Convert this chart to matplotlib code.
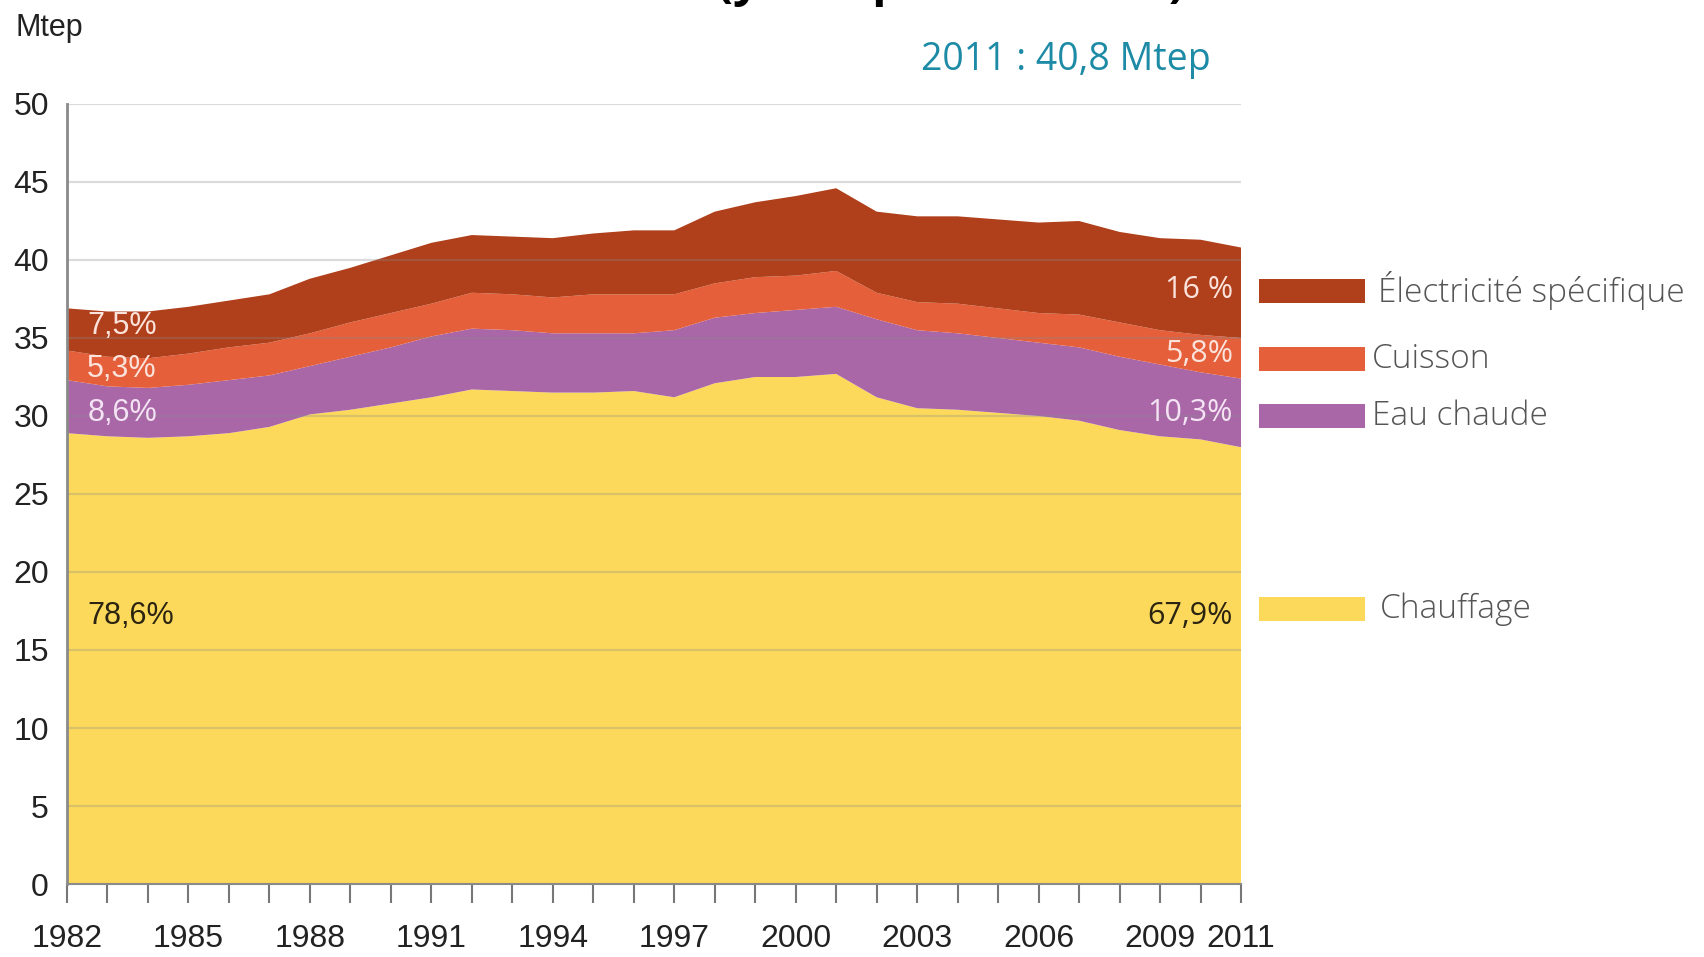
import matplotlib
matplotlib.use('Agg')
import matplotlib.pyplot as plt
from matplotlib.patches import Rectangle

years = list(range(1982, 2012))

# cumulative boundaries (Mtep)
top_chauffage = [28.9, 28.7, 28.6, 28.7, 28.9, 29.3, 30.1, 30.4, 30.8, 31.2,
                 31.7, 31.6, 31.5, 31.5, 31.6, 31.2, 32.1, 32.5, 32.5, 32.7,
                 31.2, 30.5, 30.4, 30.2, 30.0, 29.7, 29.1, 28.7, 28.5, 28.0]
top_eau = [32.3, 31.9, 31.8, 32.0, 32.3, 32.6, 33.2, 33.8, 34.4, 35.1,
           35.6, 35.5, 35.3, 35.3, 35.3, 35.5, 36.3, 36.6, 36.8, 37.0,
           36.2, 35.5, 35.3, 35.0, 34.7, 34.4, 33.8, 33.3, 32.8, 32.4]
top_cuisson = [34.2, 33.8, 33.7, 34.0, 34.4, 34.7, 35.3, 36.0, 36.6, 37.2,
               37.9, 37.8, 37.6, 37.8, 37.8, 37.8, 38.5, 38.9, 39.0, 39.3,
               37.9, 37.3, 37.2, 36.9, 36.6, 36.5, 36.0, 35.5, 35.2, 35.0]
total = [36.9, 36.7, 36.7, 37.0, 37.4, 37.8, 38.8, 39.5, 40.3, 41.1,
         41.6, 41.5, 41.4, 41.7, 41.9, 41.9, 43.1, 43.7, 44.1, 44.6,
         43.1, 42.8, 42.8, 42.6, 42.4, 42.5, 41.8, 41.4, 41.3, 40.8]

chauffage = top_chauffage
eau_chaude = [b - a for a, b in zip(top_chauffage, top_eau)]
cuisson = [b - a for a, b in zip(top_eau, top_cuisson)]
electricite = [b - a for a, b in zip(top_cuisson, total)]

labels = ['Chauffage', 'Eau chaude', 'Cuisson', 'Électricité spécifique']
colors = ['#fcd95b', '#a967a8', '#e55f3a', '#b0401b']

xtick_years = [1982, 1985, 1988, 1991, 1994, 1997, 2000, 2003, 2006, 2009, 2011]
yticks = list(range(0, 55, 5))

narrow = ['Liberation Sans Narrow', 'Liberation Sans', 'DejaVu Sans']
soft = ['Open Sans', 'DejaVu Sans']

W, H = 1704, 957
fig = plt.figure(figsize=(W / 100, H / 100), dpi=100)
ax = fig.add_axes([67 / W, 1 - 884 / H, (1241 - 67) / W, 780 / H])

ax.stackplot(years, chauffage, eau_chaude, cuisson, electricite,
             colors=colors, linewidth=0, zorder=1)

for v in yticks[1:]:
    ax.axhline(v, color='#8a8a8a', alpha=0.3, lw=1.6, zorder=2)

ax.set_xlim(1982, 2011)
ax.set_ylim(0, 50)
ax.set_yticks(yticks)
ax.set_yticklabels([str(v) for v in yticks], family=narrow, fontsize=23, color='#222222')
ax.set_xticks(years, minor=False)
ax.set_xticklabels([str(y) if y in xtick_years else '' for y in years],
                   family=narrow, fontsize=23, color='#222222')
ax.tick_params(axis='y', length=0, pad=13)
ax.tick_params(axis='x', length=14, width=1.5, color='#777777', pad=15, direction='out')

for s in ['top', 'right']:
    ax.spines[s].set_visible(False)
ax.spines['left'].set_color('#8a8a8a')
ax.spines['left'].set_linewidth(2)
ax.spines['bottom'].set_color('#8a8a8a')
ax.spines['bottom'].set_linewidth(1.5)

# share labels
ax.text(1982.5, 35.8, '7,5%', color='#fbe3dc', fontsize=22, family=narrow, va='center', zorder=3)
ax.text(1982.5, 33.0, '5,3%', color='#fbe3dc', fontsize=22, family=narrow, va='center', zorder=3)
ax.text(1982.5, 30.2, '8,6%', color='#f3e3f3', fontsize=22, family=narrow, va='center', zorder=3)
ax.text(1982.5, 17.2, '78,6%', color='#2a2410', fontsize=22, family=narrow, va='center', zorder=3)
ax.text(2010.8, 38.1, '16 %', color='#fbe3dc', fontsize=22, family=soft, va='center', ha='right', zorder=3)
ax.text(2010.8, 34.0, '5,8%', color='#fbe3dc', fontsize=22, family=soft, va='center', ha='right', zorder=3)
ax.text(2010.8, 30.2, '10,3%', color='#f3e3f3', fontsize=22, family=soft, va='center', ha='right', zorder=3)
ax.text(2010.8, 17.2, '67,9%', color='#2a2410', fontsize=22, family=soft, va='center', ha='right', zorder=3)

fig.text(16 / W, 1 - 28 / H, 'Mtep', family=narrow, fontsize=22, color='#222222', va='center')
fig.text(921 / W, 1 - 60 / H, '2011 : 40,8 Mtep', family=soft, fontsize=27, color='#1d8ba6', va='center')
fig.text(717 / W, 1.004, '(y compris les DOM)', family=soft, fontsize=34, fontweight='bold',
         color='black', va='baseline', ha='left')

# legend
leg = [('Électricité spécifique', colors[3], 291, 1378),
       ('Cuisson', colors[2], 359, 1372),
       ('Eau chaude', colors[1], 416, 1372),
       ('Chauffage', colors[0], 609, 1380)]
for name, c, yc, xt in leg:
    fig.add_artist(Rectangle((1259 / W, 1 - (yc + 12) / H), 106 / W, 24 / H,
                             transform=fig.transFigure, color=c, lw=0))
    fig.text(xt / W, 1 - yc / H, name, family=soft, fontsize=24, fontweight='light',
             color='#555555', va='center', ha='left')

fig.savefig('out.png', dpi=100)
